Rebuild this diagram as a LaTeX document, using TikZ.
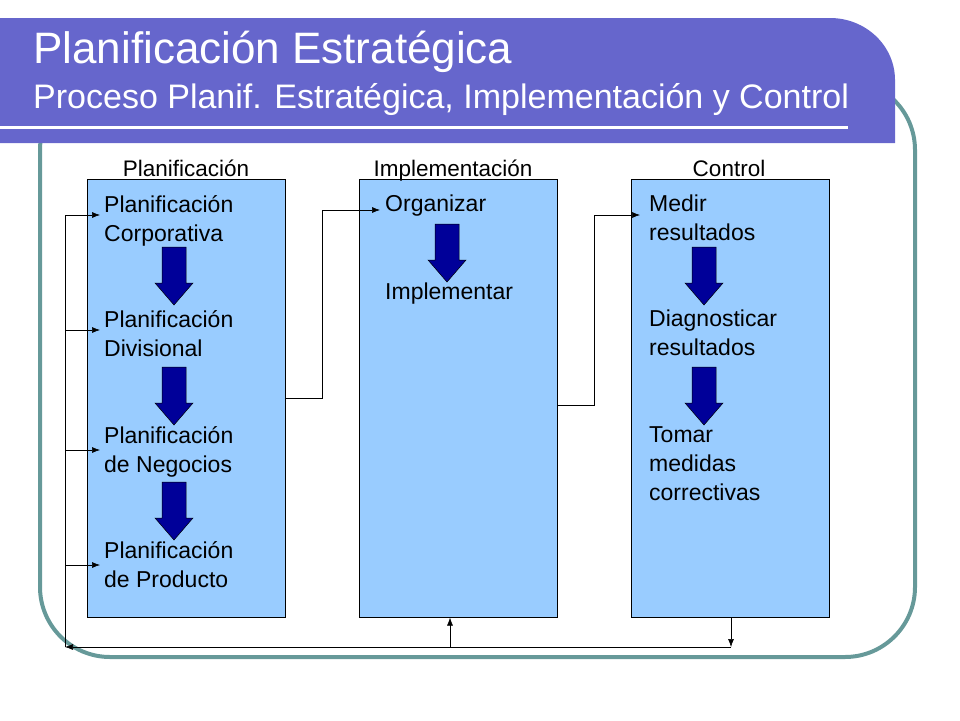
\documentclass[tikz,border=0pt]{standalone}
\usepackage{fontspec}
\setmainfont{Liberation Sans}
\usetikzlibrary{arrows.meta}
\definecolor{hdr}{HTML}{6666CC}
\definecolor{frm}{HTML}{669999}
\definecolor{boxc}{HTML}{99CCFF}
\definecolor{navy}{HTML}{000099}
\tikzset{
 stage/.style={draw=black,fill=boxc,line width=0.6pt,minimum width=198pt,minimum height=438pt,inner sep=0pt},
 lbl/.style={anchor=north west,align=left,font=\fontsize{23}{29}\selectfont,inner sep=0pt},
 hd/.style={font=\fontsize{22.5}{26}\selectfont,inner sep=0pt,anchor=base},
 blk/.style={draw=black,fill=navy,line width=0.5pt},
 conn/.style={line width=0.6pt,-{Latex[length=8pt,width=6pt]}},
 plain/.style={line width=0.6pt}
}
\newcommand\blkarrow[2]{\draw[blk] (#1-12,#2-29) -- (#1+12,#2-29) -- (#1+12,#2+7) -- (#1+19,#2+7) -- (#1,#2+29) -- (#1-19,#2+7) -- (#1-12,#2+7) -- cycle;}
\begin{document}
\begin{tikzpicture}[x=1pt,y=-1pt]
\useasboundingbox (0,0) rectangle (960,720);
\draw[frm,line width=4pt,rounded corners=70pt] (40,80) rectangle (915,657);
\fill[hdr] (0,18) -- (830,18) arc[start angle=90,end angle=0,x radius=65pt,y radius=62pt] -- (895,143) -- (0,143) -- cycle;
\fill[hdr] (0,18) rectangle (800,143);
\draw[white,line width=3pt] (0,127) -- (848,127);
\node[anchor=west,white,font=\fontsize{44}{48}\selectfont,inner sep=0pt] (t1) at (33,52) {Planificación Estratégica};
\node[anchor=west,white,font=\fontsize{34}{38}\selectfont,inner sep=0pt] (t2) at (33,100) {Proceso Planif. Estratégica, Implementación  y Control};
\node[stage,anchor=north west] (p) at (87,179) {};
\node[stage,anchor=north west] (i) at (359,179) {};
\node[stage,anchor=north west] (c) at (631,179) {};
\node[hd] (hp) at (186,176) {Planificación};
\node[hd] (hi) at (453,176) {Implementación};
\node[hd] (hc) at (729,176) {Control};
\node[lbl] (p1) at (104,195) {Planificación\\Corporativa};
\node[lbl] (p2) at (104,310) {Planificación\\Divisional};
\node[lbl] (p3) at (104,426) {Planificación\\de Negocios};
\node[lbl] (p4) at (104,541) {Planificación\\de Producto};
\node[lbl] (i1) at (385,195) {Organizar};
\node[lbl] (i2) at (385,283) {Implementar};
\node[lbl] (c1) at (649,195) {Medir\\resultados};
\node[lbl] (c2) at (649,310) {Diagnosticar\\resultados};
\node[lbl] (c3) at (649,426) {Tomar\\medidas\\correctivas};
\blkarrow{174}{276}
\blkarrow{174}{396}
\blkarrow{174}{511}
\blkarrow{447}{253}
\blkarrow{704}{276}
\blkarrow{704}{396}
\coordinate (k1) at (322,398);
\coordinate (k2) at (594,405);
\coordinate (e1) at (380,210);
\coordinate (e2) at (640,215);
\draw[conn] (p.east |- k1) -- (k1) |- (e1);
\draw[conn] (i.east |- k2) -- (k2) |- (e2);
\coordinate (bl) at (65,647);
\coordinate (cb) at (731,647);
\coordinate (ib) at (450,647);
\draw[conn] (c.south -| cb) -- (cb);
\draw[conn] (cb) -- (bl);
\draw[conn] (ib) -- (ib |- i.south);
\draw[plain] (bl) -- (65,215);
\foreach \y in {215,330,450,565} \draw[conn] (65,\y) -- (100,\y);
\end{tikzpicture}
\end{document}
